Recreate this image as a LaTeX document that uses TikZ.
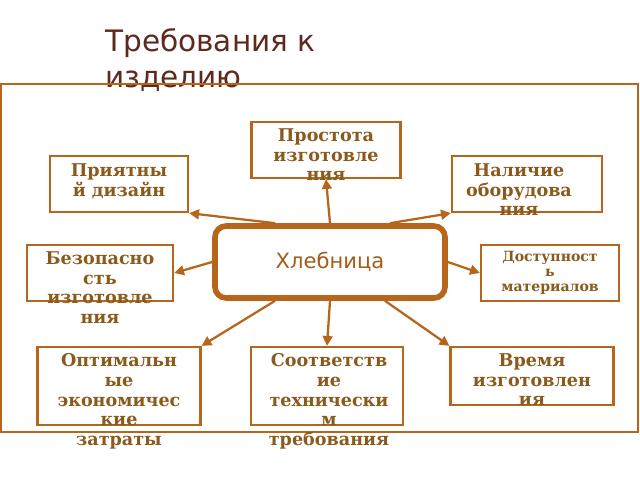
\documentclass[tikz,border=0pt]{standalone}
\usepackage{fontspec}
\setmainfont{DejaVu Serif}
\newfontfamily\titlefont{DejaVu Sans}
\usetikzlibrary{arrows.meta}
\definecolor{frame}{HTML}{B8651C}
\definecolor{ink}{HTML}{8A5A1C}
\definecolor{head}{HTML}{5C2A1E}
\tikzset{
  box/.style={draw=frame,line width=1.6pt,inner sep=0pt},
  lbl/.style={text=ink,font=\bfseries\fontsize{12.5}{14}\selectfont,align=center,inner sep=1pt,anchor=north},
  link/.style={draw=frame,line width=1.6pt,-{Triangle[length=7pt,width=7pt]}}
}
\begin{document}
\begin{tikzpicture}[x=0.025cm,y=-0.025cm]
\useasboundingbox (0,0) rectangle (640,480);
\fill[white] (0,0) rectangle (640,480);
\node (title) [anchor=north west,text=head,font=\titlefont\fontsize{21}{26}\selectfont,align=left,inner sep=0pt] at (105,28) {Требования к\\изделию};
\draw[frame,line width=1.6pt] (1,84) rectangle (638,432);
\node (center) [draw=frame,line width=4pt,rounded corners=8pt,minimum width=5.75cm,minimum height=1.8cm,text=frame!90!black,font=\titlefont\fontsize{15}{18}\selectfont] at (330,262) {Хлебница};
% boxes
\node (simple)  [box,minimum width=3.72cm,minimum height=1.4cm] at (326,150) {};
\node (design)  [box,minimum width=3.45cm,minimum height=1.4cm] at (119,184) {};
\node (equip)   [box,minimum width=3.75cm,minimum height=1.4cm] at (527,184) {};
\node (safe)    [box,minimum width=3.65cm,minimum height=1.4cm] at (100,273) {};
\node (access)  [box,minimum width=3.45cm,minimum height=1.4cm] at (550,273) {};
\node (cost)    [box,minimum width=4.07cm,minimum height=1.95cm] at (119,386) {};
\node (tech)    [box,minimum width=3.8cm,minimum height=1.95cm] at (327,386) {};
\node (time)    [box,minimum width=4.07cm,minimum height=1.45cm] at (532,376) {};
% texts
\node [lbl] at (326,127) {Простота\\изготовле\\ния};
\node [lbl] at (119,162) {Приятны\\й дизайн};
\node [lbl] at (519,162) {Наличие\\оборудова\\ния};
\node [lbl] at (100,250) {Безопасно\\сть\\изготовле\\ния};
\node [lbl,font=\bfseries\fontsize{10}{10.5}\selectfont] at (550,250) {Доступност\\ь\\материалов};
\node [lbl] at (119,352) {Оптимальн\\ые\\экономичес\\кие\\затраты};
\node [lbl] at (329,352) {Соответств\\ие\\технически\\м\\требования};
\node [lbl] at (532,352) {Время\\изготовлен\\ия};
% links
\draw[link] (center.north) ++(-55,0) coordinate (c1) -- (design.south east);
\draw[link] (center.north) -- (simple.south);
\draw[link] (center.north) ++(60,0) coordinate (c2) -- (equip.south west);
\draw[link] (center.west) -- (safe.east);
\draw[link] (center.east) -- (access.west);
\draw[link] (center.south) ++(-55,0) coordinate (c3) -- (cost.north east);
\draw[link] (center.south) -- (tech.north);
\draw[link] (center.south) ++(55,0) coordinate (c4) -- (time.north west);
\end{tikzpicture}
\end{document}
